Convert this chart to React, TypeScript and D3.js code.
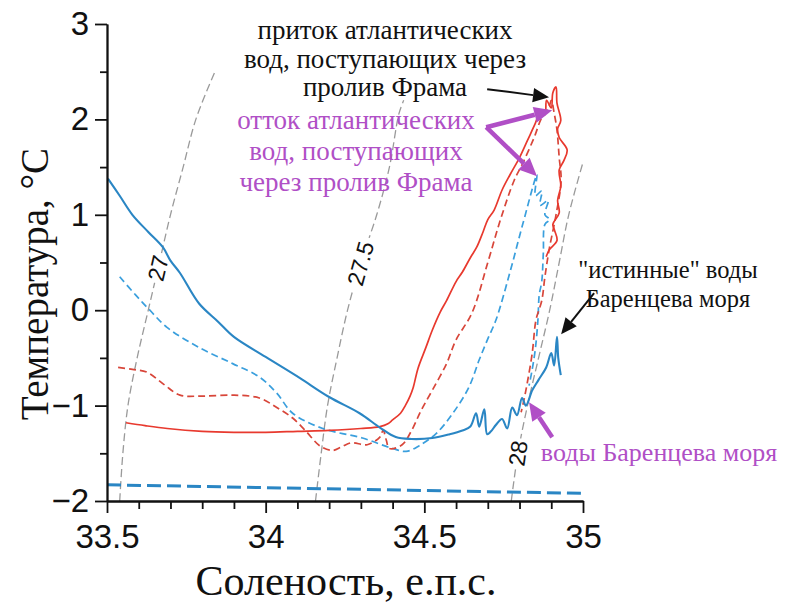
import React, { useEffect, useRef } from 'react';
import * as d3 from 'd3';

type Pt = [number, number]; // [salinity, temperature]

const salinityTicks = [33.5, 34, 34.5, 35];
const salinityMinor = [33.6, 33.7, 33.8, 33.9, 34.1, 34.2, 34.3, 34.4, 34.6, 34.7, 34.8, 34.9];
const tempTicks = [-2, -1, 0, 1, 2, 3];
const tempMinor = [-1.5, -0.5, 0.5, 1.5, 2.5];

// isopycnals (sigma-t)
const iso27: Pt[] = [[33.54, -2], [33.55, -1.5], [33.566, -1], [33.595, -0.5], [33.63, 0], [33.665, 0.5], [33.7, 1], [33.74, 1.5], [33.78, 2], [33.84, 2.5]];
const iso275: Pt[] = [[34.157, -2], [34.175, -1.5], [34.195, -1], [34.225, -0.5], [34.258, 0], [34.3, 0.5], [34.35, 1], [34.39, 1.5], [34.42, 2.06], [34.435, 2.2]];
const iso28: Pt[] = [[34.774, -2], [34.795, -1.5], [34.825, -1], [34.86, -0.5], [34.895, 0], [34.925, 0.5], [34.955, 1], [35.0, 1.55]];

const redSolid: Pt[] = [
  [33.56, -1.18], [33.62, -1.21], [33.69, -1.24], [33.8, -1.27], [33.9, -1.28], [34.0, -1.28], [34.1, -1.27],
  [34.2, -1.26], [34.3, -1.24], [34.36, -1.22], [34.385, -1.19], [34.4, -1.15], [34.425, -1.08], [34.44, -1.0],
  [34.455, -0.9], [34.465, -0.81], [34.48, -0.61], [34.505, -0.39], [34.525, -0.21], [34.55, -0.02], [34.57, 0.1],
  [34.6, 0.3], [34.62, 0.4], [34.645, 0.55], [34.665, 0.66], [34.685, 0.82], [34.7, 0.95], [34.72, 1.05],
  [34.745, 1.26], [34.77, 1.42], [34.8, 1.6], [34.825, 1.78], [34.85, 1.96], [34.865, 2.08], [34.88, 2.05],
  [34.885, 2.2], [34.9, 2.12], [34.905, 2.28], [34.915, 2.34], [34.918, 2.17], [34.93, 1.99], [34.92, 1.9],
  [34.925, 1.81], [34.95, 1.68], [34.94, 1.57], [34.925, 1.47], [34.93, 1.3], [34.92, 1.15], [34.925, 1.02],
  [34.905, 0.9], [34.91, 0.84], [34.918, 0.73], [34.893, 0.63], [34.884, 0.56],
];
const redDashed: Pt[] = [
  [33.535, -0.6], [33.58, -0.62], [33.626, -0.65], [33.68, -0.78], [33.73, -0.89], [33.8, -0.9], [33.9, -0.89],
  [33.98, -0.92], [34.035, -1.02], [34.085, -1.13], [34.13, -1.28], [34.17, -1.42], [34.21, -1.47], [34.24, -1.43],
  [34.27, -1.39], [34.32, -1.41], [34.36, -1.33], [34.37, -1.26], [34.38, -1.36], [34.39, -1.45], [34.43, -1.41],
  [34.46, -1.26], [34.49, -1.05], [34.525, -0.84], [34.57, -0.56], [34.6, -0.31], [34.65, -0.03], [34.7, 0.5],
  [34.74, 0.95], [34.783, 1.36], [34.81, 1.54], [34.846, 1.81], [34.87, 2.02], [34.893, 2.13], [34.9, 2.2],
  [34.91, 2.05], [34.918, 1.89], [34.925, 1.6], [34.931, 1.36], [34.915, 1.0], [34.893, 0.63], [34.88, 0.35],
  [34.87, 0.1], [34.852, -0.1], [34.84, -0.45], [34.825, -0.75], [34.814, -0.94], [34.805, -1.07],
];
const blueSolid: Pt[] = [
  [33.503, 1.38], [33.54, 1.2], [33.58, 1.0], [33.63, 0.82], [33.676, 0.66], [33.7, 0.52], [33.73, 0.39],
  [33.79, 0.07], [33.85, -0.12], [33.9, -0.28], [34.0, -0.49], [34.107, -0.71], [34.2, -0.91], [34.296, -1.08],
  [34.36, -1.23], [34.41, -1.33], [34.46, -1.35], [34.525, -1.34], [34.58, -1.3], [34.62, -1.26], [34.645, -1.22],
  [34.663, -1.08], [34.673, -1.22], [34.689, -1.04], [34.698, -1.3], [34.71, -1.27], [34.726, -1.2],
  [34.745, -1.14], [34.761, -1.24], [34.777, -1.02], [34.792, -1.1], [34.808, -0.92], [34.82, -1.0],
  [34.84, -0.84], [34.86, -0.73], [34.884, -0.6], [34.9, -0.45], [34.909, -0.58], [34.918, -0.28],
  [34.922, -0.5], [34.93, -0.68],
];
const blueDashed: Pt[] = [
  [33.54, 0.35], [33.59, 0.16], [33.635, 0.0], [33.689, -0.18], [33.79, -0.39], [33.896, -0.56], [33.98, -0.7],
  [34.035, -0.87], [34.085, -1.08], [34.18, -1.24], [34.305, -1.34], [34.4, -1.45], [34.443, -1.48],
  [34.484, -1.42], [34.538, -1.29], [34.59, -1.08], [34.64, -0.81], [34.673, -0.52], [34.7, -0.3],
  [34.726, -0.1], [34.77, 0.4], [34.81, 0.9], [34.855, 1.42], [34.85, 1.2], [34.87, 1.25], [34.865, 1.1],
  [34.89, 1.15], [34.88, 1.0], [34.895, 0.95], [34.88, 0.9], [34.875, 0.6], [34.87, 0.3], [34.862, 0.16],
  [34.858, -0.1], [34.85, -0.4], [34.84, -0.62], [34.83, -0.79],
];
const blueBottom: Pt[] = [[33.5, -1.83], [34.0, -1.86], [34.5, -1.89], [35.0, -1.92]];

const App = () => {
  const svgRef = useRef<SVGSVGElement>(null);

  const colors = {
    axis: '#111',
    iso: '#9a9a9a',
    red: '#e8392e',
    redDash: '#d8463a',
    blue: '#2a86c4',
    blueDash: '#3a9fdd',
    purple: '#b04fc6',
    text: '#111',
  };

  useEffect(() => {
    document.body.style.margin = '0';
    const svgEl = svgRef.current;
    if (!svgEl) return;
    const width = 794;
    const height = 608;
    const svg = d3.select(svgEl);
    svg.attr('width', width).attr('height', height);
    svg.selectAll('*').remove();
    svg.append('rect').attr('width', width).attr('height', height).attr('fill', '#fff');

    const x = d3.scaleLinear().domain([33.5, 35]).range([107, 583]);
    const y = d3.scaleLinear().domain([-2, 3]).range([501, 24]);
    const line = d3.line<Pt>().x((d) => x(d[0])).y((d) => y(d[1]));
    const smooth = d3.line<Pt>().x((d) => x(d[0])).y((d) => y(d[1])).curve(d3.curveCatmullRom.alpha(0.5));

    // isopycnals
    const isos: [Pt[], string, number][] = [[iso27, '27', 0.44], [iso275, '27.5', 0.49], [iso28, '28', -1.5]];
    isos.forEach(([pts, label, tAt]) => {
      svg.append('path').datum(pts).attr('d', smooth).attr('fill', 'none')
        .attr('stroke', colors.iso).attr('stroke-width', 1.3).attr('stroke-dasharray', '8,4');
      const i = d3.bisector((d: Pt) => d[1]).left(pts, tAt);
      const a = pts[Math.max(0, i - 1)];
      const b = pts[Math.min(pts.length - 1, i)];
      const f = (tAt - a[1]) / (b[1] - a[1] || 1);
      const sAt = a[0] + f * (b[0] - a[0]);
      const ang = (Math.atan2(y(b[1]) - y(a[1]), x(b[0]) - x(a[0])) * 180) / Math.PI;
      const g = svg.append('g').attr('transform', `translate(${x(sAt)},${y(tAt)}) rotate(${ang})`);
      const w = label.length * 12 + 6;
      g.append('rect').attr('x', -w / 2).attr('y', -10).attr('width', w).attr('height', 20).attr('fill', '#fff');
      g.append('text').attr('text-anchor', 'middle').attr('dy', '0.35em')
        .attr('font-family', '"Liberation Sans", Arial, sans-serif').attr('font-size', 23)
        .attr('fill', colors.text).text(label);
    });

    // series
    svg.append('path').datum(blueBottom).attr('d', line).attr('fill', 'none')
      .attr('stroke', colors.blue).attr('stroke-width', 3).attr('stroke-dasharray', '14,6');
    svg.append('path').datum(blueDashed).attr('d', smooth).attr('fill', 'none')
      .attr('stroke', colors.blueDash).attr('stroke-width', 1.7).attr('stroke-dasharray', '7,4');
    svg.append('path').datum(redDashed).attr('d', smooth).attr('fill', 'none')
      .attr('stroke', colors.redDash).attr('stroke-width', 1.7).attr('stroke-dasharray', '7,4');
    svg.append('path').datum(redSolid).attr('d', smooth).attr('fill', 'none')
      .attr('stroke', colors.red).attr('stroke-width', 1.7);
    svg.append('path').datum(blueSolid).attr('d', smooth).attr('fill', 'none')
      .attr('stroke', colors.blue).attr('stroke-width', 2.1);

    // axes
    const styleAxis = (sel: any) => {
      sel.selectAll('path,line').attr('stroke', colors.axis).attr('stroke-width', 1.8);
      sel.selectAll('text').attr('fill', colors.text).attr('font-size', 33)
        .attr('font-family', '"Liberation Sans", Arial, sans-serif');
    };
    svg.append('g').attr('transform', 'translate(0,501)')
      .call(d3.axisBottom(x).tickValues(salinityMinor).tickSize(8).tickSizeOuter(0).tickFormat(() => ''))
      .call(styleAxis);
    svg.append('g').attr('transform', 'translate(0,501)')
      .call(d3.axisBottom(x).tickValues(salinityTicks).tickSize(12).tickSizeOuter(0).tickPadding(12).tickFormat(d3.format('')))
      .call(styleAxis);
    svg.append('g').attr('transform', 'translate(107,0)')
      .call(d3.axisLeft(y).tickValues(tempMinor).tickSize(7).tickSizeOuter(0).tickFormat(() => ''))
      .call(styleAxis);
    svg.append('g').attr('transform', 'translate(107,0)')
      .call(d3.axisLeft(y).tickValues(tempTicks).tickSize(12).tickSizeOuter(0).tickPadding(6).tickFormat(d3.format('')))
      .call(styleAxis);

    const serif = '"Liberation Serif", "Times New Roman", serif';
    svg.append('text').attr('x', 346).attr('y', 595).attr('text-anchor', 'middle')
      .attr('font-family', serif).attr('font-size', 42).attr('fill', colors.text).text('Соленость, е.п.с.');
    svg.append('text').attr('transform', 'translate(48,284) rotate(-90)').attr('text-anchor', 'middle')
      .attr('font-family', serif).attr('font-size', 39).attr('fill', colors.text).text('Температура, °C');

    // annotations: lines, centre x, first baseline, line height, colour, size
    const notes: [string[], number, number, number, string, number][] = [
      [['приток атлантических', 'вод, поступающих через', 'пролив Фрама'], 385, 39, 28.5, colors.text, 27],
      [['отток атлантических', 'вод, поступающих', 'через пролив Фрама'], 356, 129, 31, colors.purple, 27],
      [['"истинные" воды', 'Баренцева моря'], 668, 278, 29, colors.text, 24.5],
      [['воды Баренцева моря'], 659, 461, 0, colors.purple, 26],
    ];
    notes.forEach(([lines, cx, y0, lh, fill, fs]) => {
      lines.forEach((t, k) => {
        svg.append('text').attr('x', cx).attr('y', y0 + k * lh).attr('text-anchor', 'middle')
          .attr('font-family', serif).attr('font-size', fs).attr('fill', fill).text(t);
      });
    });

    const arrow = (from: Pt, to: Pt, color: string, sw: number, head: number) => {
      const x1 = x(from[0]), y1 = y(from[1]), x2 = x(to[0]), y2 = y(to[1]);
      const a = Math.atan2(y2 - y1, x2 - x1);
      const bx = x2 - head * Math.cos(a), by = y2 - head * Math.sin(a);
      svg.append('line').attr('x1', x1).attr('y1', y1).attr('x2', bx).attr('y2', by)
        .attr('stroke', color).attr('stroke-width', sw);
      const hw = head * 0.45;
      const p = [
        [x2, y2],
        [bx + hw * Math.sin(a), by - hw * Math.cos(a)],
        [bx - hw * Math.sin(a), by + hw * Math.cos(a)],
      ];
      svg.append('polygon').attr('points', p.map((q) => q.join(',')).join(' ')).attr('fill', color);
    };
    arrow([34.698, 2.317], [34.893, 2.233], '#111', 2, 16);
    arrow([34.695, 1.918], [34.903, 2.096], colors.purple, 4.5, 18);
    arrow([34.695, 1.918], [34.855, 1.405], colors.purple, 4.5, 18);
    arrow([35.035, 0.178], [34.931, -0.252], '#111', 2, 16);
    arrow([34.903, -1.331], [34.83, -0.964], colors.purple, 4.5, 18);
  }, []);

  return <svg ref={svgRef} style={{ display: 'block' }} />;
};

export default App;
